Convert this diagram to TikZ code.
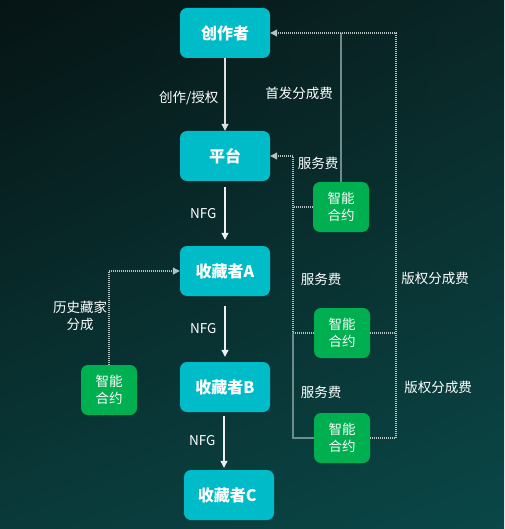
\documentclass[tikz,border=0pt]{standalone}
\usepackage{fontspec}
\setmainfont{Noto Sans CJK SC}
\usepackage{tikz}
\usetikzlibrary{arrows.meta}
\usetikzlibrary{positioning}
\usetikzlibrary{calc}
\usetikzlibrary{shadings}
\definecolor{bgtl}{HTML}{061414}
\definecolor{bgtr}{HTML}{0A2626}
\definecolor{bgbl}{HTML}{0A3A3A}
\definecolor{bgbr}{HTML}{0A4747}
\definecolor{rolecyan}{HTML}{00BCC9}
\definecolor{contractgreen}{HTML}{00B050}
\definecolor{dotgray}{HTML}{B4C2C2}
\definecolor{linegray}{HTML}{6E8C8C}
\tikzset{basic box/.style={rounded corners=7pt,text=white,align=center,inner sep=0pt}}
\tikzset{role/.style={basic box,fill=rolecyan,minimum width=90pt,minimum height=50pt,
                      font=\fontsize{16}{19}\selectfont\bfseries}}
\tikzset{contract/.style={basic box,fill=contractgreen,minimum width=56pt,minimum height=50pt,
                          font=\fontsize{13.5}{17}\selectfont}}
\tikzset{flow/.style={draw,white!88!gray,line width=1.1pt,
                      -{Triangle[width=7pt,length=7pt]}}}
\tikzset{money/.style={draw,dotgray,line width=1.1pt,dash pattern=on 1pt off 1pt}}
\tikzset{tag/.style={text=white,font=\fontsize{13.5}{16}\selectfont,inner sep=0pt,align=center}}

\begin{document}
\begin{tikzpicture}
      [
      x=1pt,y=-1pt,
      money tip/.style={money,-{Triangle[width=7pt,length=7pt]}},
      back/.style={draw,linegray,line width=1.1pt},
      ]

      % background
      \shade [upper left=bgtl,upper right=bgtr,lower left=bgbl,lower right=bgbr]
      (0,0) rectangle (504,529);
      \useasboundingbox (0,0) rectangle (504,529);

      % vertices
      \foreach \n/\x/\y/\t in
      {
      zz/225/33/创作者,
      pt/225/156/平台,
      scA/225/271/收藏者A,
      scB/225/387/收藏者B,
      scC/229/495/收藏者C
      }
      {
      \node [role] (\n) at (\x,\y) {\t};
      }

      \foreach \n/\x/\y in {hy0/109/390, hy1/341/207, hy2/342/333, hy3/342/438}
      {
      \node [contract] (\n) at (\x,\y) {智能\\合约};
      }

      \coordinate (r1) at (396,33);
      \coordinate (l1) at (293,156);

      % edges
      \path [flow,draw=white!75!gray] (zz.south) -- node [tag,left=6pt,pos=0.55] {创作/授权} (pt.north);
      \path [flow,shorten <=6pt,shorten >=6pt] (pt.south) -- node [tag,left=8pt] {NFG} (scA.north);
      \path [flow,shorten <=10pt,shorten >=5pt] (scA.south) -- node [tag,left=8pt] {NFG} (scB.north);
      \path [flow,shorten <=4pt,shorten >=2pt] ([xshift=-1pt]scB.south) --
      node [tag,left=8pt] {NFG} ([xshift=-1pt]scB.south |- scC.north);

      % fees to the creator
      \path [back] (hy1.north) -- (hy1.north |- zz.east);
      \path [money tip] (hy3.east) -- (hy3.east -| r1) -- (r1) -- (zz.east);
      \path [money] (hy2.east) -- (hy2.east -| r1);

      % fees to the platform
      \path [money tip] (hy2.west) -- (hy2.west -| l1) -- (l1) -- (pt.east);
      \path [money] (hy1.west) -- (hy1.west -| l1);
      \path [back] (hy3.west) -- (hy3.west -| l1) -- (hy2.west -| l1);

      % share for former collectors
      \path [money tip] (hy0.north) -- (hy0.north |- scA.west) -- (scA.west);

      % fee labels
      \node [tag] (sf) at (299,93) {首发分成费};
      \node [tag] (fw1) at (318,163) {服务费};
      \node [tag] (fw2) at (321,279) {服务费};
      \node [tag] (fw3) at (321,392) {服务费};
      \node [tag] (bq1) at (435,278) {版权分成费};
      \node [tag] (bq2) at (438,387) {版权分成费};
      \node [tag,font=\fontsize{13.5}{17}\selectfont] (ls) at (80,316) {历史藏家\\分成};

    \end{tikzpicture}
\end{document}
